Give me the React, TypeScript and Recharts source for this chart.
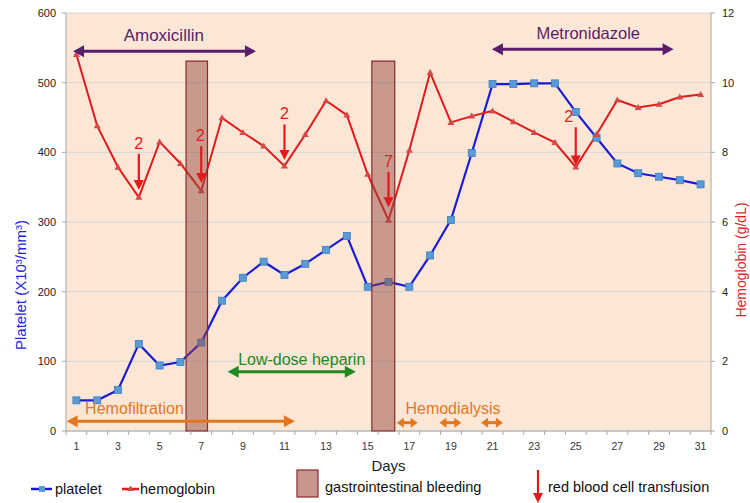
import React from 'react';
import {
  CartesianGrid,
  ComposedChart,
  Line,
  ReferenceArea,
  ReferenceDot,
  ReferenceLine,
  XAxis,
  YAxis
} from 'recharts';

// values
const days = [1, 2, 3, 4, 5, 6, 7, 8, 9, 10, 11, 12, 13, 14, 15, 16, 17, 18, 19, 20, 21, 22, 23, 24, 25, 26, 27, 28, 29, 30, 31];
const platelet = [44, 44, 59, 125, 94, 99, 127, 187, 220, 243, 224, 240, 260, 280, 207, 214, 207, 252, 303, 399, 498, 498, 499, 499, 458, 421, 384, 370, 365, 360, 354];
const hemoglobin = [10.81, 8.76, 7.57, 6.71, 8.3, 7.68, 6.9, 8.99, 8.57, 8.18, 7.61, 8.51, 9.48, 9.07, 7.37, 6.05, 8.06, 10.29, 8.86, 9.04, 9.19, 8.88, 8.57, 8.28, 7.58, 8.51, 9.5, 9.29, 9.38, 9.59, 9.66];
const plateletTicks = [0, 100, 200, 300, 400, 500, 600];
const hemoglobinTicks = [0, 2, 4, 6, 8, 10, 12];

// events (days, platelet-axis levels)
const bleedingFrom = [6.27, 15.2];
const bleedingTo = [7.3, 16.3];
const bleedingTop = 531;

const transfusionDays = [4, 7, 11, 16, 25];
const transfusionUnits = ['2', '2', '2', '7', '2'];
const transfusionStart = [398, 409, 440, 372, 436];
const transfusionEnd = [346, 356, 389, 321, 381];
const transfusionLabelShift = [0, -1, 0, 0, -7];

const PURPLE = '#5a1d6c';
const GREEN = '#21891f';
const ORANGE = '#e3771f';
const RED = '#e3191b';
const BLUE = '#1b1bd6';
const FONT = '"Liberation Sans", Arial, sans-serif';

const therapies = [
  { name: 'Amoxicillin', from: 0.84, to: 9.63, level: 545, textDay: 5.2, textLevel: 568, color: PURPLE, size: 17 },
  { name: 'Metronidazole', from: 20.97, to: 29.7, level: 548, textDay: 25.6, textLevel: 572, color: PURPLE, size: 16.5 },
  { name: 'Low-dose heparin', from: 8.27, to: 14.43, level: 85, textDay: 11.83, textLevel: 102, color: GREEN, size: 16 },
  { name: 'Hemofiltration', from: 0.53, to: 11.5, level: 14, textDay: 3.79, textLevel: 32, color: ORANGE, size: 16 }
];
const dialysisFrom = [16.4, 18.45, 20.45];
const dialysisTo = [17.4, 19.5, 21.5];

const W = 750;
const H = 503;
const M = { top: 13, right: 9, bottom: 32, left: 26 };
const YL_W = 40;
const YR_W = 30;
const X_H = 40;
const PLOT_L = M.left + YL_W;
const PLOT_R = W - M.right - YR_W;
const PLOT_B = H - M.bottom - X_H;
const BAND = (PLOT_R - PLOT_L) / days.length;

const chartData = days.map((day, i) => ({ day, platelet: platelet[i], hemoglobin: hemoglobin[i] }));
const dayEdges = [...days.map((d) => d - 0.5), days[days.length - 1] + 0.5];

const arrowShape =
  (color: string, width: number, head: number, half: number, both: boolean, label?: string, labelShift = 0) =>
  (p: any) => {
    const { x1, y1, x2, y2 } = p;
    if (x1 == null || y1 == null) return <g />;
    const dx = x2 - x1;
    const dy = y2 - y1;
    const len = Math.hypot(dx, dy) || 1;
    const ux = dx / len;
    const uy = dy / len;
    const nx = -uy;
    const ny = ux;
    const tri = (tx: number, ty: number, sx: number, sy: number) =>
      `${tx},${ty} ${tx - sx * head + nx * half},${ty - sy * head + ny * half} ${tx - sx * head - nx * half},${ty - sy * head - ny * half}`;
    return (
      <g>
        <line
          x1={both ? x1 + ux * head * 0.7 : x1}
          y1={both ? y1 + uy * head * 0.7 : y1}
          x2={x2 - ux * head * 0.7}
          y2={y2 - uy * head * 0.7}
          stroke={color}
          strokeWidth={width}
        />
        <polygon points={tri(x2, y2, ux, uy)} fill={color} />
        {both && <polygon points={tri(x1, y1, -ux, -uy)} fill={color} />}
        {label && (
          <text x={x1 + labelShift} y={y1 - 5} textAnchor="middle" fontSize={16} fill={color} fontFamily={FONT}>
            {label}
          </text>
        )}
      </g>
    );
  };

const textShape = (text: string, color: string, size: number) => (p: any) =>
  p.cx == null ? (
    <g />
  ) : (
    <text x={p.cx} y={p.cy} textAnchor="middle" dominantBaseline="central" fontSize={size} fill={color} fontFamily={FONT}>
      {text}
    </text>
  );

const SquareDot = (p: any) =>
  p.cx == null ? (
    <g key={p.key} />
  ) : (
    <rect key={p.key} x={p.cx - 3.5} y={p.cy - 3.5} width={7} height={7} fill="#5b9bd5" stroke="#3c7cc2" strokeWidth={0.8} />
  );

const TriangleDot = (p: any) =>
  p.cx == null ? (
    <g key={p.key} />
  ) : (
    <polygon key={p.key} points={`${p.cx},${p.cy - 3.5} ${p.cx + 3.5},${p.cy + 2.5} ${p.cx - 3.5},${p.cy + 2.5}`} fill="#d24a48" />
  );

const DayTick = (p: any) => {
  const { x, y, payload } = p;
  const day = payload.value + 0.5;
  return (
    <g>
      <line x1={x} x2={x} y1={y} y2={y + 4} stroke="#a8a8a8" />
      {day % 2 === 1 && day <= days[days.length - 1] && (
        <text x={x + BAND / 2} y={y + 15} textAnchor="middle" dominantBaseline="central" fontSize={10.5} fill="#333" fontFamily={FONT}>
          {day}
        </text>
      )}
    </g>
  );
};

export default function App() {
  return (
    <div style={{ position: 'absolute', left: 0, top: 0, width: W, height: H, background: '#fff' }}>
      <ComposedChart width={W} height={H} data={chartData} margin={M}>
        <CartesianGrid yAxisId="p" vertical={false} stroke="#d6d6d6" fill="#fce7d6" />
        <XAxis
          dataKey="day"
          type="number"
          domain={[0.5, 31.5]}
          ticks={dayEdges}
          interval={0}
          tick={DayTick}
          tickLine={false}
          tickSize={0}
          tickMargin={0}
          axisLine={{ stroke: '#a8a8a8' }}
          height={X_H}
        />
        <YAxis
          yAxisId="p"
          domain={[0, 600]}
          ticks={plateletTicks}
          width={YL_W}
          tick={{ fontSize: 11, fill: '#222', fontFamily: FONT }}
          tickSize={4}
          tickMargin={6}
          tickLine={{ stroke: '#a8a8a8' }}
          axisLine={{ stroke: '#a8a8a8' }}
        />
        <YAxis
          yAxisId="h"
          orientation="right"
          domain={[0, 12]}
          ticks={hemoglobinTicks}
          width={YR_W}
          tick={{ fontSize: 11, fill: '#222', fontFamily: FONT }}
          tickSize={4}
          tickMargin={7}
          tickLine={{ stroke: '#a8a8a8' }}
          axisLine={{ stroke: '#a8a8a8' }}
        />
        <Line
          yAxisId="p"
          dataKey="platelet"
          stroke={BLUE}
          strokeWidth={2.2}
          dot={SquareDot}
          activeDot={false}
          isAnimationActive={false}
        />
        <Line
          yAxisId="h"
          dataKey="hemoglobin"
          stroke={RED}
          strokeWidth={2}
          dot={TriangleDot}
          activeDot={false}
          isAnimationActive={false}
        />
        {bleedingFrom.map((x1, i) => (
          <ReferenceArea
            key={`gi${i}`}
            yAxisId="p"
            x1={x1}
            x2={bleedingTo[i]}
            y1={0}
            y2={bleedingTop}
            fill="#93443d"
            fillOpacity={0.48}
            stroke="#8a2a2a"
            strokeWidth={1.2}
            zIndex={650}
          />
        ))}
        {therapies.map((t) => (
          <ReferenceLine
            key={`arrow-${t.name}`}
            yAxisId="p"
            segment={[
              { x: t.from, y: t.level },
              { x: t.to, y: t.level }
            ]}
            shape={arrowShape(t.color, 3, 11, 6, true)}
            zIndex={700}
          />
        ))}
        {therapies.map((t) => (
          <ReferenceDot
            key={`text-${t.name}`}
            yAxisId="p"
            x={t.textDay}
            y={t.textLevel}
            r={0}
            shape={textShape(t.name, t.color, t.size)}
            zIndex={700}
          />
        ))}
        {dialysisFrom.map((x1, i) => (
          <ReferenceLine
            key={`hd${i}`}
            yAxisId="p"
            segment={[
              { x: x1, y: 12 },
              { x: dialysisTo[i], y: 12 }
            ]}
            shape={arrowShape(ORANGE, 3, 7, 5, true)}
            zIndex={700}
          />
        ))}
        <ReferenceDot
          yAxisId="p"
          x={19.1}
          y={32}
          r={0}
          shape={textShape('Hemodialysis', ORANGE, 16)}
          zIndex={700}
        />
        {transfusionDays.map((d, i) => (
          <ReferenceLine
            key={`rbc${i}`}
            yAxisId="p"
            segment={[
              { x: d, y: transfusionStart[i] },
              { x: d, y: transfusionEnd[i] }
            ]}
            shape={arrowShape(RED, 2.2, 10, 5, false, transfusionUnits[i], transfusionLabelShift[i])}
            zIndex={700}
          />
        ))}
      </ComposedChart>
      <svg width={W} height={H} style={{ position: 'absolute', left: 0, top: 0, pointerEvents: 'none' }} fontFamily={FONT}>
        <text transform={`translate(20, 285) rotate(-90)`} textAnchor="middle" dominantBaseline="central" fontSize={15} fill="#2424dc">
          Platelet (X10³/mm³)
        </text>
        <text transform={`translate(741, 260) rotate(-90)`} textAnchor="middle" dominantBaseline="central" fontSize={14} fill="#e02424">
          Hemoglobin (g/dL)
        </text>
        <text x={(PLOT_L + PLOT_R) / 2} y={PLOT_B + 34} textAnchor="middle" dominantBaseline="central" fontSize={15} fill="#222">
          Days
        </text>
        <g>
          <line x1={31} x2={52} y1={489} y2={489} stroke={BLUE} strokeWidth={2.5} />
          <rect x={39} y={486} width={6} height={6} fill="#5b9bd5" />
          <text x={55} y={489} dominantBaseline="central" fontSize={14.5} fill="#111">platelet</text>
          <line x1={122} x2={139} y1={489} y2={489} stroke={RED} strokeWidth={2.5} />
          <polygon points="130.5,485.5 134,491 127,491" fill="#d24a48" />
          <text x={140} y={489} dominantBaseline="central" fontSize={14.5} fill="#111">hemoglobin</text>
          <rect x={297} y={470} width={21} height={27} fill="#c8968c" stroke="#8a2a2a" strokeWidth={1.2} />
          <text x={325} y={487} dominantBaseline="central" fontSize={14.5} fill="#111">gastrointestinal bleeding</text>
          <line x1={538} x2={538} y1={470} y2={494} stroke={RED} strokeWidth={2.2} />
          <polygon points="538,503 533,493 543,493" fill={RED} />
          <text x={548} y={487} dominantBaseline="central" fontSize={14.5} fill="#111">red blood cell transfusion</text>
        </g>
      </svg>
    </div>
  );
}
